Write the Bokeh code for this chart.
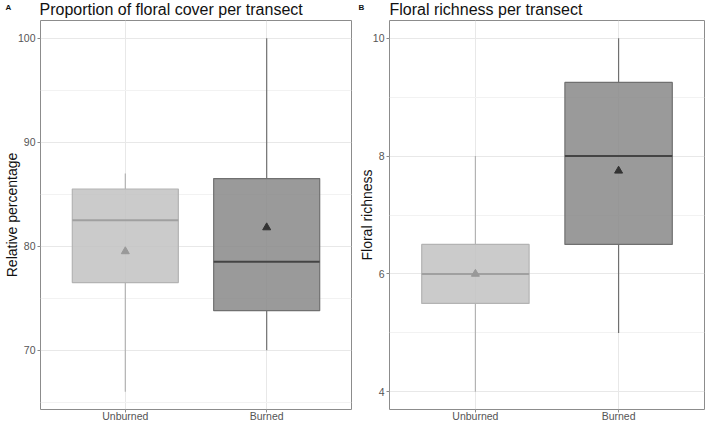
from bokeh.plotting import figure
from bokeh.models import Range1d, FixedTicker
from bokeh.layouts import row, column
from bokeh.core.properties import value
from bokeh.embed import file_html
from bokeh.resources import INLINE

# Treatment groups
categories = ["Unburned", "Burned"]

# Proportion of floral cover per transect (%)
cover_min = [66.0, 70.0]
cover_q1 = [76.5, 73.8]
cover_median = [82.5, 78.5]
cover_q3 = [85.5, 86.5]
cover_max = [87.0, 100.0]
cover_mean = [79.5, 81.8]

# Floral richness per transect
rich_min = [4.0, 5.0]
rich_q1 = [5.5, 6.5]
rich_median = [6.0, 8.0]
rich_q3 = [6.5, 9.25]
rich_max = [8.0, 10.0]
rich_mean = [6.0, 7.75]

# Panel headings
panel_tags = ["A", "B"]
panel_titles = ["Proportion of floral cover per transect",
                "Floral richness per transect"]

FONT = "Liberation Sans"
BOX_W = 0.75
FILL = ["#c2c2c2", "#888888"]
EDGE = ["#b3b3b3", "#707070"]
MED = ["#a0a0a0", "#444444"]
MEAN_C = ["#999999", "#333333"]
HEADER_H = 20
W = 709


def panel(ylabel, lo, q1, med, q3, hi, mean, ylim, yticks, yminor,
          width, left, right):
    pos = [i + 1 for i in range(len(categories))]
    p = figure(width=width, height=424 - HEADER_H, x_range=Range1d(0.4, 2.6),
               y_range=Range1d(*ylim), output_backend="svg",
               toolbar_location=None, min_border_left=left,
               min_border_right=right, min_border_top=0, min_border_bottom=0)
    p.background_fill_color = "white"
    p.border_fill_color = "white"
    p.outline_line_color = "#8c8c8c"
    p.outline_line_width = 1

    # grid
    p.xgrid.grid_line_color = "#e8e8e8"
    p.ygrid.grid_line_color = "#e8e8e8"
    p.ygrid.minor_grid_line_color = "#f2f2f2"

    # axes
    p.xaxis.ticker = FixedTicker(ticks=pos)
    p.xaxis.major_label_overrides = {pv: c for pv, c in zip(pos, categories)}
    p.yaxis.ticker = FixedTicker(ticks=yticks, minor_ticks=yminor)
    for ax in (p.xaxis, p.yaxis):
        ax.axis_line_color = None
        ax.major_tick_line_color = "#888888"
        ax.major_tick_out = 3
        ax.major_tick_in = 0
        ax.minor_tick_line_color = None
        ax.major_label_text_font = FONT
        ax.major_label_text_font_size = "10.5px"
        ax.major_label_text_color = "#555555"
    p.xaxis.major_label_standoff = -3
    p.yaxis.major_label_standoff = 1
    p.yaxis.axis_label = ylabel
    p.yaxis.axis_label_text_font = FONT
    p.yaxis.axis_label_text_font_style = "normal"
    p.yaxis.axis_label_text_font_size = "14px"
    p.yaxis.axis_label_text_color = "#111111"
    p.yaxis.axis_label_standoff = -5

    # whiskers
    p.segment(x0=pos, y0=q3, x1=pos, y1=hi, line_color=EDGE, line_width=1.2)
    p.segment(x0=pos, y0=lo, x1=pos, y1=q1, line_color=EDGE, line_width=1.2)
    # boxes
    p.vbar(x=pos, width=BOX_W, bottom=q1, top=q3, fill_color=FILL,
           fill_alpha=0.85, line_color=EDGE, line_width=1.2)
    # medians
    p.segment(x0=[x - BOX_W / 2 for x in pos], y0=med,
              x1=[x + BOX_W / 2 for x in pos], y1=med,
              line_color=MED, line_width=2)
    # means
    p.scatter(x=pos, y=mean, marker="triangle", size=8, fill_color=MEAN_C,
              line_color=MEAN_C)
    return p


# heading strip across both panels (pixel coordinates, y up)
head = figure(width=W, height=HEADER_H, x_range=Range1d(0, W),
              y_range=Range1d(0, HEADER_H), x_axis_type=None, y_axis_type=None,
              output_backend="svg", toolbar_location=None, min_border=0)
head.outline_line_color = None
head.grid.visible = False
head.text(x=[5, 358], y=[13, 13], text=panel_tags, text_font=value(FONT),
          text_font_size="8px", text_font_style="bold", text_color="#111111",
          text_baseline="alphabetic")
head.text(x=[39, 389], y=[11, 11], text=panel_titles, text_font=value(FONT),
          text_font_size="16px", text_color="#111111",
          text_baseline="alphabetic")

pa = panel("Relative percentage",
           cover_min, cover_q1, cover_median, cover_q3, cover_max, cover_mean,
           (64.3, 101.7), [70, 80, 90, 100], [65, 75, 85, 95],
           355, 39, 4)
pb = panel("Floral richness",
           rich_min, rich_q1, rich_median, rich_q3, rich_max, rich_mean,
           (3.7, 10.3), [4, 6, 8, 10], [5, 7, 9],
           354, 34, 5)

layout = column(head, row(pa, pb))
open("out.html", "w").write(file_html(layout, INLINE))
